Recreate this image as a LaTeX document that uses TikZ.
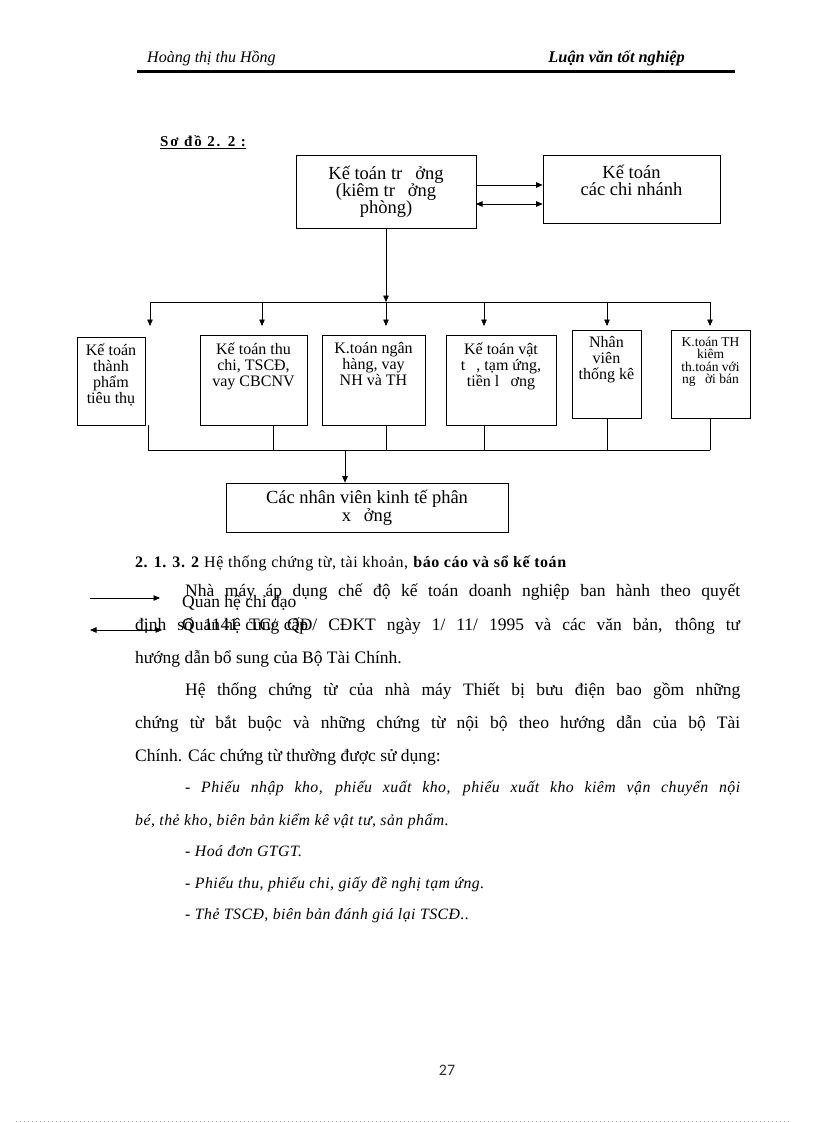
\documentclass[tikz,border=0pt]{standalone}
\usepackage{fontspec}
\setmainfont{Liberation Serif}
\newfontfamily\pgfont{Carlito}
\usetikzlibrary{arrows.meta,positioning}
\tikzset{
  kbox/.style={draw, line width=0.7pt, inner sep=0pt},
  ktext/.style={align=center, inner sep=0pt, font=\fontsize{16}{16}\selectfont},
  btext/.style={ktext, font=\fontsize{18.5}{17}\selectfont},
  tip/.style={-{Triangle[width=5.5pt,length=6.5pt]}},
  dtip/.style={{Triangle[width=5.5pt,length=6.5pt]}-{Triangle[width=5.5pt,length=6.5pt]}},
  line/.style={line width=0.7pt},
  body/.style={anchor=base west, inner sep=0pt, font=\fontsize{17.5}{20}\selectfont},
  bodyit/.style={body, font=\itshape\fontsize{15.8}{20}\selectfont\addfontfeature{LetterSpace=3}}
}
\newcommand{\jline}[2]{\makebox[#1pt][s]{#2}}
\newcommand{\gap}{\hspace{0.7em}}
\begin{document}
\begin{tikzpicture}[x=1pt,y=-1pt]
\useasboundingbox (0,0) rectangle (816,1123);

\node[anchor=base west, inner sep=0pt, font=\itshape\fontsize{16}{18}\selectfont] (author) at (147,63) {Hoàng thị thu Hồng};
\node[anchor=base east, inner sep=0pt, font=\bfseries\itshape\fontsize{16.3}{18}\selectfont] (title) at (685,63) {Luận văn tốt nghiệp};
\draw[line width=3pt] (137,72) -- (735,72);

\node[anchor=base west, inner sep=0pt, font=\bfseries\fontsize{15}{16}\selectfont\addfontfeature{LetterSpace=12}] (sodo) at (160,147) {\underline{Sơ đồ 2. 2 :}};

\node[kbox, btext, minimum width=180pt, minimum height=73pt] (ktt) at (386,191.5) {Kế toán tr\gap ởng\\(kiêm tr\gap ởng\\phòng)};
\node[kbox, minimum width=177pt, minimum height=68pt] (kcn) at (631.5,189) {};
\node[btext, below=10pt of kcn.north] (kcnt) {Kế toán\\các chi nhánh};

\node[kbox, minimum width=68pt, minimum height=88pt] (tp) at (111,381) {};
\node[ktext, below=7pt of tp.north] (tpt) {Kế toán\\thành\\phẩm\\tiêu thụ};
\node[kbox, minimum width=107pt, minimum height=90pt] (thu) at (253.5,380) {};
\node[ktext, below=8pt of thu.north] (thut) {Kế toán thu\\chi, TSCĐ,\\vay CBCNV};
\node[kbox, minimum width=103pt, minimum height=90pt] (nh) at (373.5,380) {};
\node[ktext, below=8pt of nh.north] (nht) {K.toán ngân\\hàng, vay\\NH và TH};
\node[kbox, minimum width=110pt, minimum height=90pt] (vt) at (501,380) {};
\node[ktext, below=8pt of vt.north] (vtt) {Kế toán vật\\t\gap, tạm ứng,\\tiền l\gap ơng};
\node[kbox, minimum width=69pt, minimum height=88pt] (tk) at (606.5,374) {};
\node[ktext, below=7pt of tk.north] (tkt) {Nhân\\viên\\thống kê};
\node[kbox, minimum width=79pt, minimum height=88pt] (th) at (710.5,374) {};
\node[ktext, font=\fontsize{13.5}{12.5}\selectfont, below=7pt of th.north] (tht) {K.toán TH\\kiêm\\th.toán với\\ng\gap ời bán};

\node[kbox, btext, font=\fontsize{18.5}{18}\selectfont, minimum width=282pt, minimum height=49pt] (px) at (367,507.5) {Các nhân viên kinh tế phân\\x\gap ởng};

\coordinate (a1) at (476,185);
\coordinate (a2) at (476,204);
\draw[line, tip] (a1) -- (a1 -| kcn.west);
\draw[line, dtip] (a2) -- (a2 -| kcn.west);

\coordinate (busl) at (150,302);
\coordinate (busr) at (710,302);
\coordinate (t1) at (150,326);
\coordinate (t2) at (262,326);
\coordinate (t3) at (386,326);
\coordinate (t4) at (484,326);
\coordinate (t5) at (607,326);
\coordinate (t6) at (710,326);
\draw[line] (busl) -- (busr);
\draw[line, tip] (ktt) -- (ktt |- busl);
\draw[line, tip] (ktt |- busl) -- (t3);
\foreach \t in {t1,t2,t4,t5,t6}
  \draw[line, tip] (\t |- busl) -- (\t);

\coordinate (bb1) at (148,450);
\coordinate (bb2) at (273,450);
\coordinate (bb3) at (386,450);
\coordinate (bb4) at (484,450);
\coordinate (bb5) at (607,450);
\coordinate (bb6) at (710,450);
\coordinate (bbx) at (345,450);
\draw[line] (bb1) -- (bb6);
\draw[line] (bb1 |- tp.south) -- (bb1);
\draw[line] (thu.south -| bb2) -- (bb2);
\draw[line] (nh.south -| bb3) -- (bb3);
\draw[line] (vt.south -| bb4) -- (bb4);
\draw[line] (tk.south -| bb5) -- (bb5);
\draw[line] (th.south -| bb6) -- (bb6);
\draw[line, tip] (bbx) -- (bbx |- px.north);

\node[anchor=base west, inner sep=0pt, font=\fontsize{16}{17}\selectfont\addfontfeature{LetterSpace=3.5}] (sec) at (135,567) {\textbf{2. 1. 3. 2} Hệ thống chứng từ, tài khoản, \textbf{báo cáo và sổ kế toán}};

\node[body] (l1) at (185,596) {\jline{555}{Nhà máy áp dụng chế độ kế toán doanh nghiệp ban hành theo quyết}};
\node[body] (l2) at (135,630) {\jline{605}{định số 1141 TC/ QĐ/ CĐKT ngày 1/ 11/ 1995 và các văn bản, thông tư}};
\node[body] (l3) at (135,663) {hướng dẫn bổ sung của Bộ Tài Chính.};
\node[body] (l4) at (185,695) {\jline{555}{Hệ thống chứng từ của nhà máy Thiết bị bưu điện bao gồm những}};
\node[body] (l5) at (135,728) {\jline{605}{chứng từ bắt buộc và những chứng từ nội bộ theo hướng dẫn của bộ Tài}};
\node[body] (l6) at (135,761) {Chính. Các chứng từ thường được sử dụng:};
\node[bodyit] (l7) at (185,792) {\jline{555}{- Phiếu nhập kho, phiếu xuất kho, phiếu xuất kho kiêm vận chuyển nội}};
\node[bodyit] (l8) at (135,825) {bé, thẻ kho, biên bản kiểm kê vật tư, sản phẩm.};
\node[bodyit] (l9) at (185,856) {- Hoá đơn GTGT.};
\node[bodyit] (l10) at (185,888) {- Phiếu thu, phiếu chi, giấy đề nghị tạm ứng.};
\node[bodyit] (l11) at (185,919) {- Thẻ TSCĐ, biên bản đánh giá lại TSCĐ..};

\coordinate (lg1) at (90,598);
\coordinate (lg1e) at (160,598);
\coordinate (lg2) at (90,630);
\coordinate (lg2e) at (162,630);
\draw[line, tip] (lg1) -- (lg1e);
\draw[line, dtip] (lg2) -- (lg2e);
\node[body] (lgt1) at (182,607) {Quan hệ chỉ đạo};
\node[body] (lgt2) at (182,630) {Quan hệ cung cấp};

\node[inner sep=0pt, font=\pgfont\fontsize{16}{18}\selectfont, text=black!80] (pg) at (447,1070) {27};
\draw[gray!60, line width=0.4pt, dash pattern=on 0.6pt off 3.4pt] (16,1121) -- (790,1121);
\end{tikzpicture}
\end{document}
